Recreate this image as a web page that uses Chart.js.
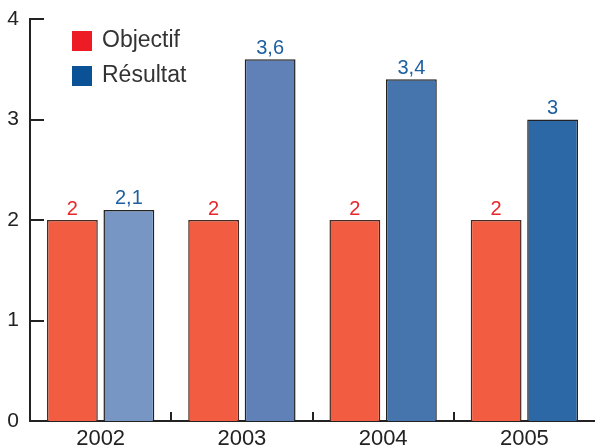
<!DOCTYPE html>
<html>
<head>
<meta charset="utf-8">
<script src="https://cdn.jsdelivr.net/npm/chart.js@4/dist/chart.umd.min.js"></script>
<style>
  html, body { margin: 0; padding: 0; background: #fff; }
  #wrap { width: 595px; height: 447px; }
</style>
</head>
<body>
<div id="wrap"><canvas id="chart" width="595" height="447"></canvas></div>
<script>
  var years = ["2002", "2003", "2004", "2005"];
  var objectif = [2, 2, 2, 2];
  var resultat = [2.1, 3.6, 3.4, 3];
  var yTicks = [0, 1, 2, 3, 4];

  var FONT = "'Liberation Sans', Arial, sans-serif";
  var redBar = "#f25c41";
  var blueBars = ["#7896c4", "#5f81b8", "#4674ad", "#2c68a5"];

  function fmt(v) {
    return String(v).replace(".", ",");
  }

  // inward ticks, value labels and the legend box
  var extras = {
    id: "extras",
    afterDraw: function(chart) {
      var ctx = chart.ctx;
      var x = chart.scales.x;
      var y = chart.scales.y;
      var area = chart.chartArea;

      ctx.save();
      ctx.strokeStyle = "#222";
      ctx.lineWidth = 2;
      yTicks.forEach(function(t) {
        if (t == 0) return;
        var py = Math.round(y.getPixelForValue(t));
        ctx.beginPath();
        ctx.moveTo(area.left, py);
        ctx.lineTo(area.left + 14, py);
        ctx.stroke();
      });
      for (var i = 1; i < years.length; i++) {
        var px = (x.getPixelForValue(i - 1) + x.getPixelForValue(i)) / 2;
        ctx.beginPath();
        ctx.moveTo(Math.round(px), area.bottom);
        ctx.lineTo(Math.round(px), area.bottom - 9);
        ctx.stroke();
      }

      ctx.font = "20px " + FONT;
      ctx.textAlign = "center";
      ctx.textBaseline = "bottom";
      var colors = ["#e8262c", "#1e5fa0"];
      chart.data.datasets.forEach(function(ds, di) {
        var meta = chart.getDatasetMeta(di);
        ctx.fillStyle = colors[di];
        meta.data.forEach(function(bar, i) {
          ctx.fillText(fmt(ds.data[i]), bar.x, bar.y - 1);
        });
      });

      var items = [
        { text: "Objectif", color: "#ed1c24" },
        { text: "Résultat", color: "#0a5196" },
      ];
      ctx.textAlign = "left";
      ctx.textBaseline = "middle";
      ctx.font = "23px " + FONT;
      items.forEach(function(it, i) {
        var top = 31 + i * 35;
        ctx.fillStyle = it.color;
        ctx.fillRect(72, top, 20, 20);
        ctx.fillStyle = "#333";
        ctx.fillText(it.text, 102, top + 10);
      });
      ctx.restore();
    },
  };

  var ctx = document.getElementById("chart").getContext("2d");

  new Chart(ctx, {
    type: "bar",
    data: {
      labels: years,
      datasets: [
        {
          label: "Objectif",
          data: objectif,
          backgroundColor: redBar,
          borderColor: "#4a2a22",
          borderWidth: 1.5,
          barPercentage: 0.9,
          categoryPercentage: 0.8,
        },
        {
          label: "Résultat",
          data: resultat,
          backgroundColor: blueBars,
          borderColor: "#222",
          borderWidth: 1.5,
          barPercentage: 0.9,
          categoryPercentage: 0.8,
        },
      ],
    },
    options: {
      responsive: false,
      animation: false,
      layout: {
        padding: { top: 19, right: 0, left: 0, bottom: 0 },
      },
      plugins: {
        legend: { display: false },
        tooltip: { enabled: false },
      },
      scales: {
        x: {
          grid: { display: false, drawTicks: false },
          border: { display: true, color: "#222", width: 2 },
          ticks: {
            color: "#222",
            padding: 5,
            font: { family: FONT, size: 22 },
          },
          afterFit: function(scale) {
            scale.height = 26;
            scale.paddingLeft = 0;
            scale.paddingRight = 0;
          },
        },
        y: {
          min: 0,
          max: 4,
          grid: { display: false, drawTicks: false },
          border: { display: true, color: "#222", width: 2 },
          ticks: {
            stepSize: 1,
            color: "#222",
            padding: 11,
            font: { family: FONT, size: 21 },
          },
          afterFit: function(scale) {
            scale.width = 30;
            scale.paddingTop = 0;
            scale.paddingBottom = 0;
          },
        },
      },
    },
    plugins: [extras],
  });
</script>
</body>
</html>
